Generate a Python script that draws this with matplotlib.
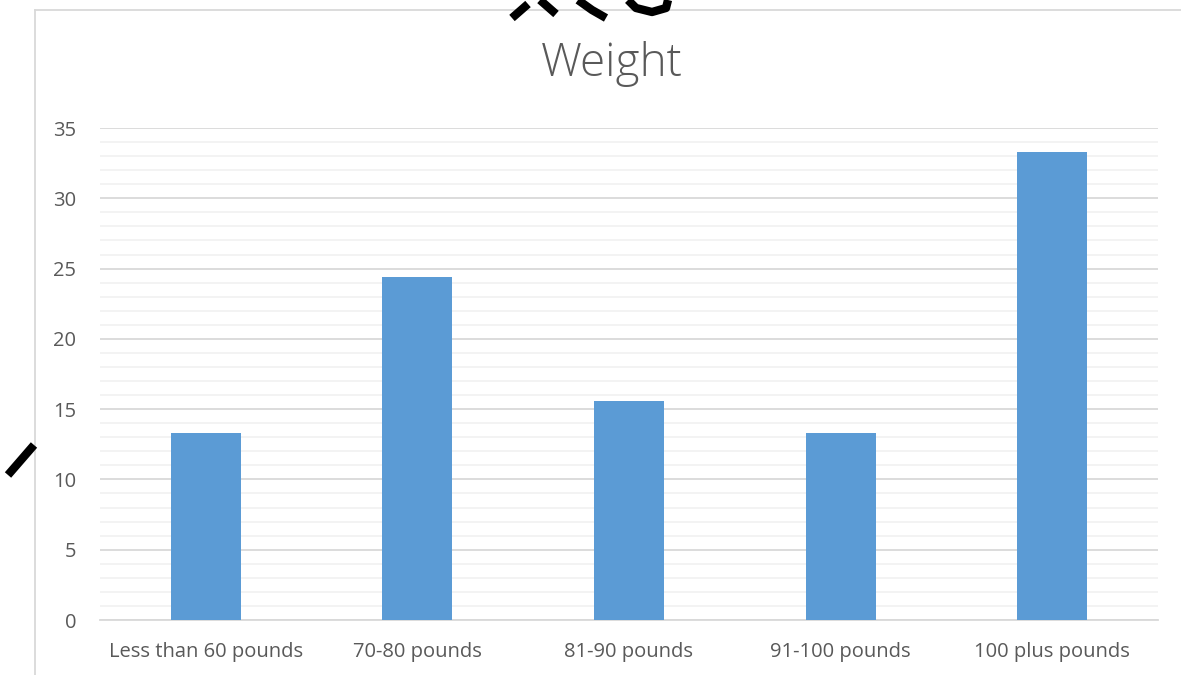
import matplotlib.pyplot as plt
from matplotlib.lines import Line2D
from matplotlib.ticker import MultipleLocator

plt.rcParams['font.family'] = ['Open Sans', 'DejaVu Sans']

# data
categories = ['Less than 60 pounds', '70-80 pounds', '81-90 pounds', '91-100 pounds', '100 plus pounds']
values = [13.3, 24.4, 15.6, 13.3, 33.3]

text_color = '#595959'
bar_color = '#5B9BD5'

fig = plt.figure(figsize=(11.81, 6.75), dpi=100)
ax = fig.add_axes([100 / 1181, 1 - 620 / 675, 1058 / 1181, 492 / 675])

x = range(len(categories))
ax.bar(x, values, width=0.33, color=bar_color, zorder=3)

ax.set_xlim(-0.5, len(categories) - 0.5)
ax.set_ylim(0, 35)
ax.yaxis.set_major_locator(MultipleLocator(5))
ax.yaxis.set_minor_locator(MultipleLocator(1))
ax.grid(axis='y', which='major', color='#D9D9D9', linewidth=1.3, zorder=1)
ax.grid(axis='y', which='minor', color='#F2F2F2', linewidth=1.3, zorder=0)

ax.set_xticks(list(x))
ax.set_xticklabels(categories)
ax.tick_params(axis='both', which='both', length=0, colors=text_color, labelsize=14.5)
ax.tick_params(axis='x', pad=16)
ax.tick_params(axis='y', pad=17)

for side in ['top', 'right', 'left']:
    ax.spines[side].set_visible(False)
ax.spines['bottom'].set_color('#D9D9D9')
ax.spines['bottom'].set_linewidth(1.3)

fig.text(612 / 1181, 1 - 64 / 675, 'Weight', ha='center', va='center', fontsize=33,
         fontweight='light', color=text_color)

# chart area border
fig.add_artist(Line2D([35 / 1181, 35 / 1181], [0, 1 - 10 / 675], color='#D9D9D9', linewidth=1.3))
fig.add_artist(Line2D([35 / 1181, 1], [1 - 10 / 675, 1 - 10 / 675], color='#D9D9D9', linewidth=1.3))

# black pen marks over the image
def mark(xs, ys):
    fig.add_artist(Line2D([v / 1181 for v in xs], [1 - v / 675 for v in ys],
                          color='black', linewidth=6, solid_capstyle='butt'))

mark([8, 34], [475, 445])
mark([512, 528], [18, 4])
mark([540, 556], [0, 14])
mark([578, 592, 606], [0, 10, 18])
mark([628, 636, 652, 666, 668], [0, 8, 12, 8, 0])

fig.savefig('out.png', dpi=100, facecolor='white')
